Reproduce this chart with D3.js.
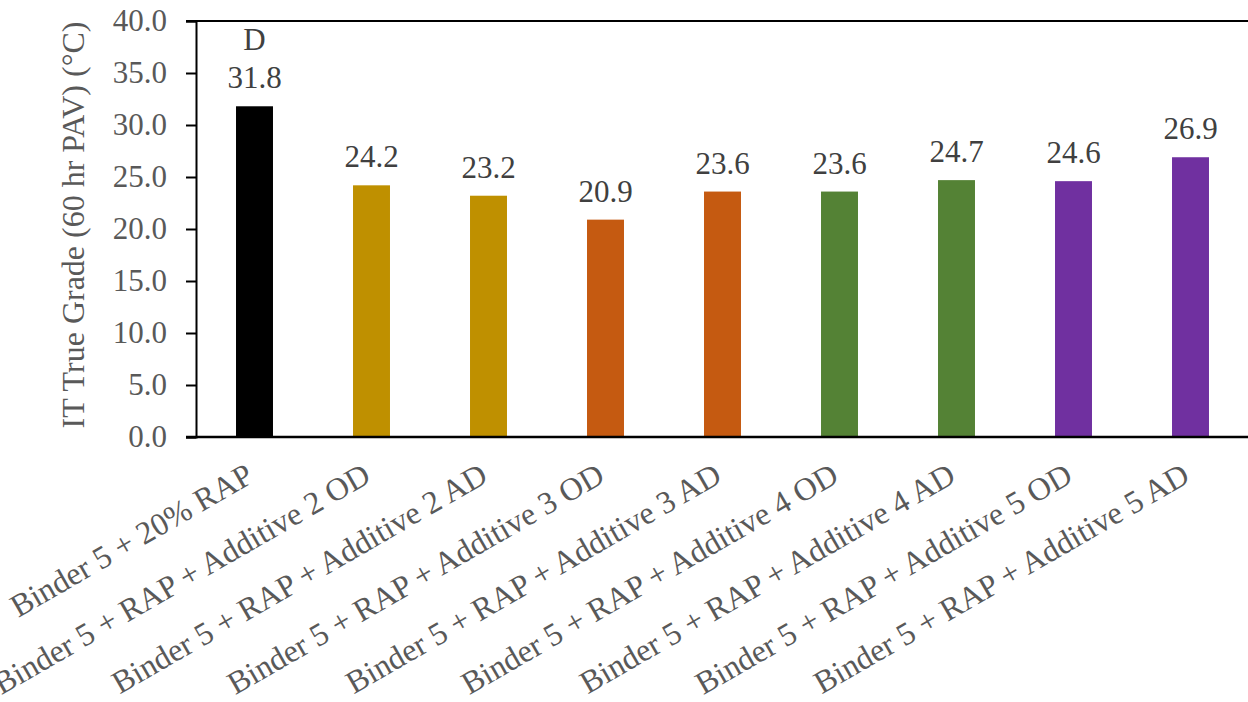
<!DOCTYPE html>
<html>
<head>
<meta charset="utf-8">
<script src="https://cdn.jsdelivr.net/npm/d3@7"></script>
<style>
body { margin: 0; background: #fff; }
svg text { font-family: "Liberation Serif", "Times New Roman", serif; }
</style>
</head>
<body>
<div id="chart"></div>
<script>
var width = 1248,
height = 702;

var categories = [
	"Binder 5 + 20% RAP",
	"Binder 5 + RAP + Additive 2 OD",
	"Binder 5 + RAP + Additive 2 AD",
	"Binder 5 + RAP + Additive 3 OD",
	"Binder 5 + RAP + Additive 3 AD",
	"Binder 5 + RAP + Additive 4 OD",
	"Binder 5 + RAP + Additive 4 AD",
	"Binder 5 + RAP + Additive 5 OD",
	"Binder 5 + RAP + Additive 5 AD"
];
var values = [31.8, 24.2, 23.2, 20.9, 23.6, 23.6, 24.7, 24.6, 26.9];
var letters = ["D", "", "", "", "", "", "", "", ""];
var colors = ["#000000", "#BF9000", "#BF9000", "#C55A11", "#C55A11", "#548235", "#548235", "#7030A0", "#7030A0"];
var yTicks = [0, 5, 10, 15, 20, 25, 30, 35, 40];

var plotLeft = 196, plotRight = 1249, plotTop = 21, plotBottom = 437;

var svg = d3.select("#chart")
.append("svg")
.attr("width", width)
.attr("height", height)
.attr("font-family", "Liberation Serif");

var xScale = d3.scaleBand()
.domain(d3.range(categories.length))
.range([plotLeft, plotRight])
.paddingInner(0.684)
.paddingOuter(0.342);

var yScale = d3.scaleLinear()
.domain([0, 40])
.range([plotBottom, plotTop]);

// bars
svg.selectAll("rect.bar")
.data(values)
.enter()
.append("rect")
.attr("class", "bar")
.attr("x", function(d, i) { return xScale(i); })
.attr("y", function(d) { return yScale(d); })
.attr("width", xScale.bandwidth())
.attr("height", function(d) { return yScale(0) - yScale(d); })
.attr("fill", function(d, i) { return colors[i]; });

// y axis
var yAxis = svg.append("g")
.attr("transform", "translate(" + plotLeft + ",0)")
.call(d3.axisLeft(yScale).tickValues(yTicks).tickSize(10).tickPadding(19).tickFormat(d3.format(".1f")));
yAxis.attr("font-family", "Liberation Serif");
yAxis.select(".domain").attr("stroke", "#000").attr("stroke-width", 2);
yAxis.selectAll(".tick line").attr("stroke", "#000").attr("stroke-width", 2);
yAxis.selectAll(".tick text")
.attr("font-size", "31px")
.attr("fill", "#595959");

// top and bottom border lines
svg.append("line")
.attr("x1", plotLeft - 10).attr("x2", width)
.attr("y1", yScale(40)).attr("y2", yScale(40))
.attr("stroke", "#000").attr("stroke-width", 2);
svg.append("line")
.attr("x1", plotLeft - 10).attr("x2", width)
.attr("y1", yScale(0)).attr("y2", yScale(0))
.attr("stroke", "#000").attr("stroke-width", 2.5);

// value labels
svg.selectAll("text.value")
.data(values)
.enter()
.append("text")
.attr("class", "value")
.attr("x", function(d, i) { return xScale(i) + xScale.bandwidth() / 2; })
.attr("y", function(d) { return yScale(d) - 18; })
.attr("text-anchor", "middle")
.attr("font-size", "31px")
.attr("fill", "#404040")
.text(function(d) { return d.toFixed(1); });

svg.selectAll("text.letter")
.data(letters)
.enter()
.append("text")
.attr("class", "letter")
.attr("x", function(d, i) { return xScale(i) + xScale.bandwidth() / 2; })
.attr("y", function(d, i) { return yScale(values[i]) - 56; })
.attr("text-anchor", "middle")
.attr("font-size", "31px")
.attr("fill", "#404040")
.text(function(d) { return d; });

// category labels
svg.selectAll("text.cat")
.data(categories)
.enter()
.append("text")
.attr("class", "cat")
.attr("text-anchor", "end")
.attr("font-size", "32px")
.attr("fill", "#595959")
.attr("transform", function(d, i) {
	var cx = xScale(i) + xScale.bandwidth() / 2;
	return "translate(" + (cx + 1) + "," + (plotBottom + 44) + ") rotate(-30)";
})
.text(function(d) { return d; });

// y axis title
svg.append("text")
.attr("transform", "translate(84,225) rotate(-90)")
.attr("text-anchor", "middle")
.attr("font-size", "32px")
.attr("fill", "#595959")
.text("IT True Grade (60 hr PAV) (°C)");
</script>
</body>
</html>
